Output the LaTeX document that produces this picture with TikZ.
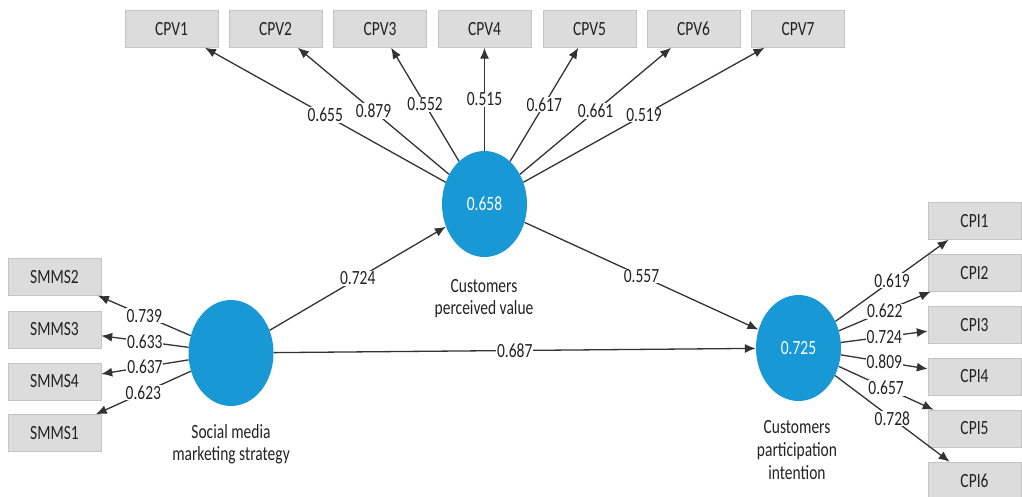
\documentclass[tikz,border=0pt]{standalone}
\usepackage{fontspec}
\setmainfont{Carlito}
\usetikzlibrary{shapes.geometric,arrows.meta}
\newcommand\vs[1]{\scalebox{1}[1.3]{#1}}
\definecolor{lv}{HTML}{1899D6}
\definecolor{bx}{HTML}{DCDCDC}
\definecolor{bxb}{HTML}{C4C4C4}
\definecolor{ln}{HTML}{333333}
\definecolor{tx}{HTML}{222222}
\begin{document}
\begin{tikzpicture}[x=1pt,y=-1pt,
  ind/.style={draw=bxb,fill=bx,minimum width=93pt,minimum height=37pt,inner sep=0pt,text=tx,font=\fontsize{15.5}{18}\selectfont},
  lat/.style={ellipse,fill=lv,minimum width=85pt,minimum height=106pt,inner sep=0pt,text=white,font=\fontsize{15.5}{18}\selectfont},
  conn/.style={draw=ln,line width=1.3pt,-{Latex[length=11pt,width=9pt]}},
  wt/.style={fill=white,inner sep=0.8pt,text=tx,font=\fontsize{15.5}{18}\selectfont},
  capt/.style={text=tx,font=\fontsize{15.5}{17.5}\selectfont,inner sep=0pt}
]
\useasboundingbox (0,0) rectangle (1022,496);
% latent variables
\node[lat] (cpv) at (484.5,204) {\vs{0.658}};
\node[lat] (smms) at (231,353) {};
\node[lat] (cpi) at (798.5,348) {\vs{0.725}};
% captions
\node[capt] (cpvcap) at (484,299) {\vs{\begin{tabular}{@{}c@{}}Customers\\perceived value\end{tabular}}};
\node[capt] (smmscap) at (231,445) {\vs{\begin{tabular}{@{}c@{}}Social media\\marketing strategy\end{tabular}}};
\node[capt] (cpicap) at (797,452) {\vs{\begin{tabular}{@{}c@{}}Customers\\participation\\intention\end{tabular}}};
% CPV indicators
\node[ind] (cpv1) at (171.5,29) {\vs{CPV1}};
\node[ind] (cpv2) at (275.5,29) {\vs{CPV2}};
\node[ind] (cpv3) at (380,29) {\vs{CPV3}};
\node[ind] (cpv4) at (484.5,29) {\vs{CPV4}};
\node[ind] (cpv5) at (589.5,29) {\vs{CPV5}};
\node[ind] (cpv6) at (693.5,29) {\vs{CPV6}};
\node[ind] (cpv7) at (798,29) {\vs{CPV7}};
% SMMS indicators
\node[ind] (s2) at (54.5,277) {\vs{SMMS2}};
\node[ind] (s3) at (54.5,329.5) {\vs{SMMS3}};
\node[ind] (s4) at (54.5,381.5) {\vs{SMMS4}};
\node[ind] (s1) at (54.5,433) {\vs{SMMS1}};
% CPI indicators
\node[ind] (c1) at (974.5,221) {\vs{CPI1}};
\node[ind] (c2) at (974.5,273) {\vs{CPI2}};
\node[ind] (c3) at (974.5,325) {\vs{CPI3}};
\node[ind] (c4) at (974.5,376.5) {\vs{CPI4}};
\node[ind] (c5) at (974.5,428.5) {\vs{CPI5}};
\node[ind] (c6) at (974.5,480.5) {\vs{CPI6}};
% CPV loadings
\draw[conn] (cpv) -- node[wt]{\vs{0.655}} (cpv1);
\draw[conn] (cpv) -- node[wt]{\vs{0.879}} (cpv2);
\draw[conn] (cpv) -- node[wt]{\vs{0.552}} (cpv3);
\draw[conn] (cpv) -- node[wt]{\vs{0.515}} (cpv4);
\draw[conn] (cpv) -- node[wt]{\vs{0.617}} (cpv5);
\draw[conn] (cpv) -- node[wt]{\vs{0.661}} (cpv6);
\draw[conn] (cpv) -- node[wt]{\vs{0.519}} (cpv7);
% SMMS loadings
\draw[conn] (smms) -- node[wt]{\vs{0.739}} (s2);
\draw[conn] (smms) -- node[wt]{\vs{0.633}} (s3);
\draw[conn] (smms) -- node[wt]{\vs{0.637}} (s4);
\draw[conn] (smms) -- node[wt]{\vs{0.623}} (s1);
% CPI loadings
\draw[conn] (cpi) -- node[wt]{\vs{0.619}} (c1);
\draw[conn] (cpi) -- node[wt]{\vs{0.622}} (c2);
\draw[conn] (cpi) -- node[wt]{\vs{0.724}} (c3);
\draw[conn] (cpi) -- node[wt]{\vs{0.809}} (c4);
\draw[conn] (cpi) -- node[wt]{\vs{0.657}} (c5);
\draw[conn] (cpi) -- node[wt]{\vs{0.728}} (c6);
% structural paths
\draw[conn] (smms) -- node[wt]{\vs{0.724}} (cpv);
\draw[conn] (cpv) -- node[wt]{\vs{0.557}} (cpi);
\draw[conn] (smms) -- node[wt]{\vs{0.687}} (cpi);
\end{tikzpicture}
\end{document}
